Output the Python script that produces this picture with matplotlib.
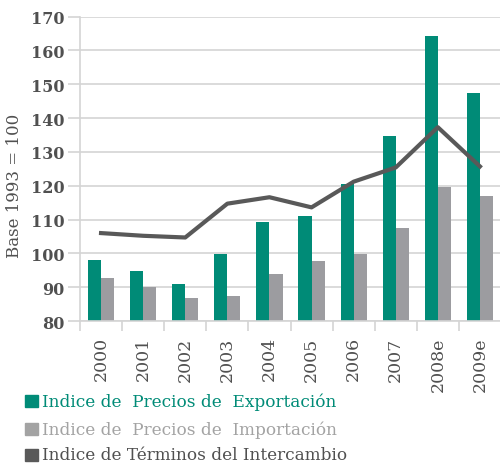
import matplotlib
matplotlib.use("Agg")
import matplotlib.pyplot as plt
import numpy as np

years = ["2000", "2001", "2002", "2003", "2004", "2005", "2006", "2007", "2008e", "2009e"]
export_idx = [98.0, 94.9, 90.8, 99.9, 109.4, 111.1, 120.6, 134.6, 164.2, 147.5]
import_idx = [92.7, 90.0, 86.8, 87.3, 94.0, 97.6, 99.8, 107.5, 119.6, 117.0]
terms_idx = [106.0, 105.2, 104.7, 114.7, 116.6, 113.6, 121.2, 125.4, 137.3, 125.7]
legend_labels = [
    "Indice de  Precios de  Exportación",
    "Indice de  Precios de  Importación",
    "Indice de Términos del Intercambio",
]

GREEN = "#008B77"
GRAY = "#9C9CA0"
DARK = "#595959"
TEXT = "#505050"
GRID = "#D4D4D4"

plt.rcParams["font.family"] = ["DejaVu Serif"]

fig = plt.figure(figsize=(5.0, 4.64), dpi=100)
ax = fig.add_axes([0.16, 0.306, 0.842, 0.656])

x = np.arange(len(years))
w = 0.31
ax.bar(x - w / 2, export_idx, width=w, color=GREEN, zorder=2)
ax.bar(x + w / 2, import_idx, width=w, color=GRAY, zorder=2)
ax.plot(x, terms_idx, color=DARK, linewidth=3, zorder=3)

ax.set_xlim(-0.5, len(years) - 0.5)
ax.set_ylim(80, 170)
ax.set_yticks(range(80, 171, 10))
ax.yaxis.grid(True, color=GRID, linewidth=1.2, zorder=0)
ax.set_axisbelow(True)

for side in ["top", "right"]:
    ax.spines[side].set_visible(False)
ax.spines["left"].set_color(GRID)
ax.spines["bottom"].set_color(GRID)
ax.spines["left"].set_linewidth(1.2)
ax.spines["bottom"].set_linewidth(1.2)

ax.tick_params(axis="y", length=9, width=1.2, color=GRID, labelsize=11.5, labelcolor=TEXT, pad=2)
for lbl in ax.get_yticklabels():
    lbl.set_fontweight("semibold")

# category separators as ticks on the x axis, labels at centres
ax.set_xticks(np.arange(-0.5, len(years), 1.0))
ax.set_xticklabels([])
ax.tick_params(axis="x", which="major", length=7, width=1.2, color=GRID)
ax.set_xticks(x, minor=True)
ax.set_xticklabels(years, minor=True, rotation=90, fontsize=12.5, color=TEXT)
ax.tick_params(axis="x", which="minor", length=0, pad=11)

ax.set_ylabel("Base 1993 = 100", fontsize=12, color=TEXT)
ax.yaxis.set_label_coords(-0.135, 0.447)

colors = [GREEN, "#A3A3A3", DARK]
text_colors = [GREEN, "#A3A3A3", TEXT]
ys = [402, 430, 456]
for lab, c, tc, yp in zip(legend_labels, colors, text_colors, ys):
    yf = 1 - yp / 464
    fig.patches.append(plt.Rectangle((25 / 500, yf - 6 / 464), 13 / 500, 12 / 464,
                                     transform=fig.transFigure, color=c, figure=fig))
    fig.text(42 / 500, yf, lab, color=tc, fontsize=12.2, va="center", ha="left")

fig.savefig("out.png", dpi=100)
plt.close(fig)
